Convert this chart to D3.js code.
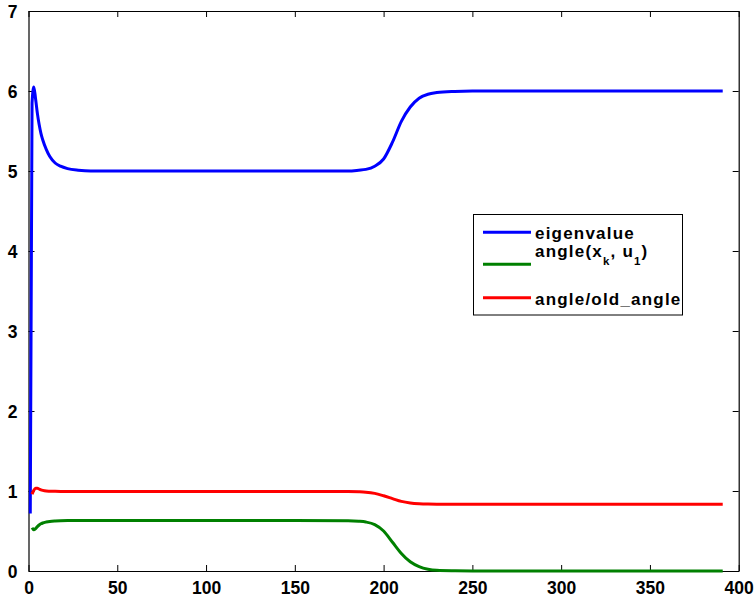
<!DOCTYPE html>
<html>
<head>
<meta charset="utf-8">
<script src="https://cdn.jsdelivr.net/npm/d3@7"></script>
<style>
  body { margin: 0; background: #fff; }
  svg { display: block; }
  .tick text { font-family: "Liberation Sans", Arial, sans-serif; font-weight: bold; font-size: 17.5px; fill: #000; }
</style>
</head>
<body>
<script>
// iteration numbers and readings for each series (null = not plotted)
var iterations = [1, 2, 3, 4, 5, 6, 7, 8, 10, 12, 15, 18, 22, 28, 35, 50, 100, 150, 180, 186,
                  190, 195, 200, 205, 210, 215, 220, 225, 230, 240, 250, 300, 350, 391];

var eigenvalue = [0.72, 5.85, 6.05, 5.9, 5.72, 5.58, 5.47, 5.39, 5.27, 5.18, 5.1, 5.06, 5.03, 5.01, 5.0, 5.0, 5.0, 5.0, 5.0, 5.01,
                  5.02, 5.06, 5.15, 5.36, 5.62, 5.8, 5.91, 5.96, 5.98, 5.995, 6.0, 6.0, 6.0, 6.0];

var angleXkU1 = [null, 0.54, 0.515, 0.53, 0.555, 0.575, 0.59, 0.6, 0.612, 0.62, 0.626, 0.629, 0.63, 0.63, 0.63, 0.63, 0.63, 0.63, 0.628, 0.622,
                 0.612, 0.58, 0.5, 0.36, 0.22, 0.115, 0.055, 0.022, 0.008, 0.002, 0, 0, 0, 0];

var angleRatio = [null, 0.96, 1.01, 1.035, 1.035, 1.025, 1.015, 1.008, 1.0, 0.998, 0.996, 0.995, 0.995, 0.995, 0.995, 0.995, 0.995, 0.995, 0.993, 0.99,
                  0.985, 0.97, 0.94, 0.905, 0.87, 0.85, 0.84, 0.836, 0.835, 0.835, 0.835, 0.835, 0.835, 0.835];

var xTicks = [0, 50, 100, 150, 200, 250, 300, 350, 400];
var yTicks = [0, 1, 2, 3, 4, 5, 6, 7];

var seriesNames = ["eigenvalue", "angle(x_k, u_1)", "angle/old_angle"];
var seriesColors = ["#0000ff", "#008000", "#ff0000"];

var W = 755, H = 601;
var plotL = 28.5, plotR = 738.7, plotT = 11, plotB = 571;

var svg = d3.select("body").append("svg")
    .attr("width", W)
    .attr("height", H);

var x = d3.scaleLinear().domain([0, 400]).range([plotL, plotR]);
var y = d3.scaleLinear().domain([0, 7]).range([plotB, plotT]);

var fmt = d3.format("d");

// axes: MATLAB style, ticks pointing in, ticks on all four sides
svg.append("g")
   .attr("transform", "translate(0," + plotB + ")")
   .call(d3.axisBottom(x).tickValues(xTicks).tickFormat(fmt).tickSizeInner(-6).tickSizeOuter(0).tickPadding(11))
   .call(function(g) { g.selectAll("text").attr("dy", "0.71em"); });

svg.append("g")
   .attr("transform", "translate(" + plotL + ",0)")
   .call(d3.axisLeft(y).tickValues(yTicks).tickFormat(fmt).tickSizeInner(-6).tickSizeOuter(0).tickPadding(11))
   .call(function(g) { g.selectAll("text").attr("dy", "0.36em"); });

svg.append("g")
   .attr("transform", "translate(0," + plotT + ")")
   .call(d3.axisTop(x).tickValues(xTicks).tickSizeInner(-6).tickSizeOuter(0).tickFormat(""));

svg.append("g")
   .attr("transform", "translate(" + plotR + ",0)")
   .call(d3.axisRight(y).tickValues(yTicks).tickSizeInner(-6).tickSizeOuter(0).tickFormat(""));

svg.selectAll(".domain").attr("stroke", "#000").attr("stroke-width", 1.2);
svg.selectAll(".tick line").attr("stroke", "#000");

var series = [eigenvalue, angleXkU1, angleRatio];

var line = d3.line()
    .defined(function(d) { return d[1] !== null; })
    .x(function(d) { return x(d[0]); })
    .y(function(d) { return y(d[1]); })
    .curve(d3.curveMonotoneX);

svg.selectAll("path.series")
   .data(series)
   .enter()
   .append("path")
   .attr("class", "series")
   .attr("fill", "none")
   .attr("stroke", function(d, i) { return seriesColors[i]; })
   .attr("stroke-width", 3)
   .attr("stroke-linejoin", "round")
   .attr("d", function(d) {
       return line(iterations.map(function(it, k) { return [it, d[k]]; }));
   });

// legend
var lg = svg.append("g");
lg.append("rect")
  .attr("x", 473.5).attr("y", 214.5)
  .attr("width", 209).attr("height", 100.5)
  .attr("fill", "#fff").attr("stroke", "#000").attr("stroke-width", 1);

var rowY = [232.3, 264.3, 297.7];

lg.selectAll("line")
  .data(seriesNames)
  .enter()
  .append("line")
  .attr("x1", 483).attr("x2", 531)
  .attr("y1", function(d, i) { return rowY[i]; })
  .attr("y2", function(d, i) { return rowY[i]; })
  .attr("stroke", function(d, i) { return seriesColors[i]; })
  .attr("stroke-width", 3);

var txt = lg.selectAll("text")
  .data(seriesNames)
  .enter()
  .append("text")
  .attr("x", 535)
  .attr("y", function(d, i) { return i === 1 ? rowY[i] - 7 : rowY[i] + 7; })
  .attr("font-family", "'Liberation Sans', Arial, sans-serif")
  .attr("font-weight", "bold")
  .attr("font-size", 17)
  .attr("letter-spacing", 1.2)
  .attr("fill", "#000");

txt.each(function(d) {
    var t = d3.select(this);
    if (d.indexOf("(") < 0) { t.text(d); return; }
    // split on "_x" to make subscripts
    var parts = d.split(/_(\w)/);
    parts.forEach(function(p, k) {
        if (p === "") return;
        if (k % 2 === 1) {
            t.append("tspan").attr("font-size", 11.5).attr("dy", 8).text(p);
        } else {
            t.append("tspan").attr("dy", k > 0 ? -8 : 0).text(p);
        }
    });
});
</script>
</body>
</html>
